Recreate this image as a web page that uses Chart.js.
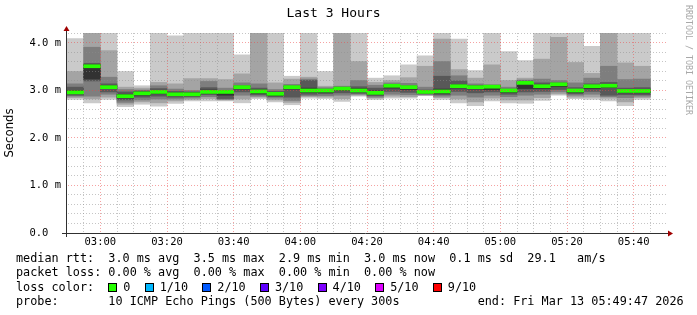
<!DOCTYPE html>
<html>
<head>
<meta charset="utf-8">
<script src="https://cdn.jsdelivr.net/npm/chart.js@4.4.1/dist/chart.umd.min.js"></script>
<style>
  html, body { margin: 0; padding: 0; background: #fff; }
  #wrap { position: relative; width: 697px; height: 315px; overflow: hidden; }
  #chart { position: absolute; left: 0; top: 0; }
  .mono { position: absolute; margin: 0; white-space: pre; color: #000; font-family: "DejaVu Sans Mono", monospace; }
  #legend { left: 16px; top: 251px; font-size: 11.8px; line-height: 14.33px; }
  #mark { left: 684px; top: 5px; font-size: 8.3px; line-height: 9px; color: #a8a8a8; writing-mode: vertical-rl; }
  .box { display: inline-block; width: 9px; height: 9px; box-sizing: border-box; border: 1px solid #000; margin-right: 6px; vertical-align: -1px; }
</style>
</head>
<body>
<div id="wrap">
  <canvas id="chart" width="697" height="315"></canvas>
  <div id="mark" class="mono">RRDTOOL / TOBI OETIKER</div>
  <div id="legend" class="mono"></div>
</div>
<script>
/// 5 minute slots (start time of each step)
var slotStarts = ["02:50", "02:55", "03:00", "03:05", "03:10", "03:15", "03:20", "03:25", "03:30", "03:35",
  "03:40", "03:45", "03:50", "03:55", "04:00", "04:05", "04:10", "04:15", "04:20", "04:25",
  "04:30", "04:35", "04:40", "04:45", "04:50", "04:55", "05:00", "05:05", "05:10", "05:15",
  "05:20", "05:25", "05:30", "05:35", "05:40"];

/// sorted ping rtts per slot (ms), ping1 = fastest
var ping1 = [2.81, 2.74, 2.81, 2.66, 2.71, 2.67, 2.73, 2.78, 2.78, 2.78, 2.74, 2.83, 2.76, 2.70, 2.84, 2.83, 2.77, 2.88, 2.81, 2.84, 2.84, 2.89, 2.81, 2.74, 2.68, 2.78, 2.74, 2.73, 2.79, 2.90, 2.83, 2.81, 2.78, 2.68, 2.81];
var ping2 = [2.85, 2.82, 2.86, 2.71, 2.76, 2.74, 2.78, 2.81, 2.83, 2.80, 2.82, 2.86, 2.80, 2.75, 2.87, 2.86, 2.83, 2.90, 2.84, 2.88, 2.87, 2.90, 2.85, 2.82, 2.76, 2.84, 2.80, 2.80, 2.85, 2.93, 2.86, 2.86, 2.84, 2.76, 2.85];
var ping3 = [2.88, 2.88, 2.92, 2.75, 2.80, 2.82, 2.82, 2.84, 2.87, 2.81, 2.90, 2.88, 2.84, 2.79, 2.89, 2.89, 2.90, 2.92, 2.86, 2.92, 2.91, 2.91, 2.88, 2.90, 2.86, 2.90, 2.87, 2.90, 2.92, 2.97, 2.90, 2.92, 2.87, 2.85, 2.88];
var ping4 = [2.90, 3.20, 2.97, 2.80, 2.86, 2.88, 2.86, 2.87, 2.91, 2.83, 2.97, 2.91, 2.87, 2.86, 2.92, 2.93, 2.95, 2.94, 2.89, 2.98, 2.96, 2.93, 2.91, 2.98, 2.95, 2.97, 2.92, 2.97, 2.98, 3.02, 2.93, 2.98, 2.90, 2.91, 2.91];
var ping5 = [2.93, 3.24, 3.04, 2.84, 2.90, 2.93, 2.89, 2.89, 2.94, 2.90, 3.03, 2.94, 2.89, 3.03, 2.96, 2.96, 3.00, 2.97, 2.92, 3.05, 3.02, 2.95, 2.94, 3.05, 3.03, 3.02, 2.96, 3.04, 3.04, 3.08, 2.96, 3.04, 3.06, 2.95, 2.95];
var ping6 = [3.00, 3.54, 3.10, 2.92, 2.97, 3.00, 2.95, 2.95, 3.01, 2.99, 3.08, 3.01, 2.95, 3.08, 3.05, 3.02, 3.06, 3.04, 2.99, 3.12, 3.08, 2.99, 3.03, 3.12, 3.09, 3.10, 3.02, 3.18, 3.12, 3.15, 3.02, 3.11, 3.13, 3.02, 3.02];
var ping7 = [3.07, 3.57, 3.14, 2.97, 2.99, 3.04, 2.98, 2.97, 3.06, 3.00, 3.10, 3.05, 2.98, 3.10, 3.21, 3.03, 3.07, 3.08, 3.05, 3.13, 3.10, 3.01, 3.30, 3.20, 3.11, 3.11, 3.03, 3.20, 3.16, 3.16, 3.06, 3.14, 3.17, 3.05, 3.06];
var ping8 = [3.14, 3.91, 3.28, 3.02, 3.01, 3.10, 3.03, 3.00, 3.19, 3.05, 3.16, 3.14, 3.02, 3.13, 3.24, 3.06, 3.09, 3.21, 3.11, 3.16, 3.15, 3.07, 3.61, 3.31, 3.14, 3.12, 3.07, 3.22, 3.24, 3.21, 3.16, 3.26, 3.51, 3.23, 3.24];
var ping9 = [3.40, 4.30, 3.84, 3.07, 3.05, 3.17, 3.14, 3.25, 3.25, 3.23, 3.35, 4.21, 3.16, 3.24, 3.28, 3.09, 4.30, 3.61, 3.17, 3.21, 3.27, 3.51, 4.08, 3.44, 3.26, 3.54, 3.21, 3.26, 3.66, 4.12, 3.59, 3.36, 4.30, 3.58, 3.51];
var ping10 = [4.09, 4.40, 4.40, 3.40, 3.10, 4.40, 4.15, 4.40, 4.40, 4.40, 3.75, 4.40, 4.40, 3.30, 4.40, 3.40, 4.40, 4.40, 3.26, 3.31, 3.54, 3.73, 4.40, 4.08, 3.42, 4.40, 3.82, 3.63, 4.40, 4.40, 4.40, 3.93, 4.40, 4.40, 4.40];
var median = [2.96, 3.51, 3.07, 2.88, 2.94, 2.97, 2.92, 2.92, 2.97, 2.97, 3.07, 2.98, 2.93, 3.07, 3.00, 3.00, 3.04, 3.00, 2.95, 3.10, 3.07, 2.97, 2.98, 3.09, 3.07, 3.08, 3.00, 3.16, 3.09, 3.13, 3.00, 3.09, 3.10, 2.99, 2.99];

/// axis labels
var xTickLabels = ["03:00", "03:20", "03:40", "04:00", "04:20", "04:40", "05:00", "05:20", "05:40"];
var yTickValues = [0, 1, 2, 3, 4];
var yTickLabels = ["0.0  ", "1.0 m", "2.0 m", "3.0 m", "4.0 m"];

/// legend
var lossLabels = ["0", "1/10", "2/10", "3/10", "4/10", "5/10", "9/10"];
var lossColors = ["#26ff00", "#00b8ff", "#0059ff", "#5e00ff", "#7e00ff", "#dd00ff", "#ff0000"];

var MONO = "DejaVu Sans Mono";
var STEP = 5;

function toMin(s) {
  var p = s.split(":");
  return Number(p[0]) * 60 + Number(p[1]) - (2 * 60 + 50);
}

var xTickMinutes = xTickLabels.map(toMin);

function range(lo, hi) {
  return slotStarts.map(function (s, i) {
    return { x: toMin(s) + STEP / 2, y: [lo[i], hi[i]] };
  });
}

function band(lo, hi, color, order) {
  return {
    data: range(lo, hi),
    backgroundColor: color,
    borderWidth: 0,
    grouped: false,
    barPercentage: 1,
    categoryPercentage: 1,
    clip: 0,
    order: order,
  };
}

// median is drawn as a thin band, like smokeping's stacked area
var medLo = median.map(function (v) { return v - 0.032; });
var medHi = median.map(function (v) { return v + 0.032; });

var datasets = [
  band(ping1, ping10, "#cacaca", 5),
  band(ping2, ping9, "#a4a4a4", 4),
  band(ping3, ping8, "#7e7e7e", 3),
  band(ping4, ping7, "#585858", 2),
  band(ping5, ping6, "#323232", 1),
  band(medLo, medHi, lossColors[0], 0),
];

var gridMinor = "rgba(140,140,140,0.5)";
var gridMajor = "rgba(235,70,70,0.5)";

/// axis lines with the little rrdtool arrows
var axes = {
  id: "axes",
  afterDraw: function (chart) {
    var ctx = chart.ctx;
    var a = chart.chartArea;
    var lx = Math.round(a.left) - 0.5;
    var by = Math.round(a.bottom) + 0.5;
    ctx.save();
    ctx.strokeStyle = "#303030";
    ctx.lineWidth = 1;
    ctx.beginPath();
    ctx.moveTo(lx, a.bottom + 4);
    ctx.lineTo(lx, a.top - 3);
    ctx.moveTo(a.left - 5, by);
    ctx.lineTo(a.right + 2, by);
    ctx.stroke();
    ctx.fillStyle = "#a00000";
    ctx.beginPath();
    ctx.moveTo(lx - 3, a.top - 2);
    ctx.lineTo(lx + 3, a.top - 2);
    ctx.lineTo(lx, a.top - 7);
    ctx.closePath();
    ctx.fill();
    ctx.beginPath();
    ctx.moveTo(a.right + 1, by - 3);
    ctx.lineTo(a.right + 1, by + 3);
    ctx.lineTo(a.right + 6, by);
    ctx.closePath();
    ctx.fill();
    ctx.restore();
  },
};

new Chart(document.getElementById("chart"), {
  type: "bar",
  data: { datasets: datasets },
  plugins: [axes],
  options: {
    responsive: false,
    animation: false,
    layout: { padding: { top: 0, left: 0, right: 30, bottom: 62 } },
    plugins: {
      legend: { display: false },
      tooltip: { enabled: false },
      title: {
        display: true,
        text: "Last 3 Hours",
        color: "#000",
        font: { family: MONO, size: 13, weight: "normal" },
        padding: { top: 6, bottom: 11.4 },
      },
    },
    scales: {
      x: {
        type: "linear",
        min: 0,
        max: 180,
        offset: false,
        afterBuildTicks: function (s) {
          var t = [];
          for (var m = STEP; m < 180; m += STEP) t.push({ value: m });
          s.ticks = t;
        },
        afterFit: function (s) { s.height = 20; },
        grid: {
          offset: false,
          z: 1,
          drawTicks: false,
          color: function (c) {
            if (!c.tick) return gridMinor;
            return xTickMinutes.indexOf(c.tick.value) >= 0 ? gridMajor : gridMinor;
          },
        },
        border: { color: "rgba(0,0,0,0)", dash: [1, 2] },
        ticks: {
          autoSkip: false,
          maxRotation: 0,
          padding: 3,
          color: "#000",
          font: { family: MONO, size: 10.5 },
          callback: function (v) {
            var i = xTickMinutes.indexOf(v);
            return i >= 0 ? xTickLabels[i] : "";
          },
        },
      },
      y: {
        min: 0,
        max: 4.21,
        afterBuildTicks: function (s) {
          var t = [];
          for (var i = 0; i <= 21; i++) t.push({ value: i / 5 });
          s.ticks = t;
        },
        afterFit: function (s) { s.width = 67; },
        grid: {
          z: 1,
          drawTicks: false,
          color: function (c) {
            if (!c.tick) return gridMinor;
            var v = c.tick.value;
            if (v === 0) return "rgba(0,0,0,0)";
            return Math.abs(v - Math.round(v)) < 1e-6 ? gridMajor : gridMinor;
          },
        },
        border: { color: "rgba(0,0,0,0)", dash: [1, 2] },
        title: {
          display: true,
          text: "Seconds",
          color: "#000",
          font: { family: "DejaVu Sans", size: 11.7 },
          padding: { top: 3, bottom: 0 },
        },
        ticks: {
          autoSkip: false,
          padding: 6,
          color: "#000",
          font: { family: MONO, size: 10.5 },
          callback: function (v) {
            for (var i = 0; i < yTickValues.length; i++) {
              if (Math.abs(v - yTickValues[i]) < 1e-6) return yTickLabels[i];
            }
            return "";
          },
        },
      },
    },
  },
});

/// text legend under the graph
var boxes = lossLabels.map(function (l, i) {
  return '<span class="box" style="background:' + lossColors[i] + '"></span>' + l;
}).join("  ");

document.getElementById("legend").innerHTML =
  "median rtt:  3.0 ms avg  3.5 ms max  2.9 ms min  3.0 ms now  0.1 ms sd  29.1   am/s\n" +
  "packet loss: 0.00 % avg  0.00 % max  0.00 % min  0.00 % now\n" +
  "loss color:  " + boxes + "\n" +
  "probe:       10 ICMP Echo Pings (500 Bytes) every 300s           end: Fri Mar 13 05:49:47 2026";
</script>
</body>
</html>
